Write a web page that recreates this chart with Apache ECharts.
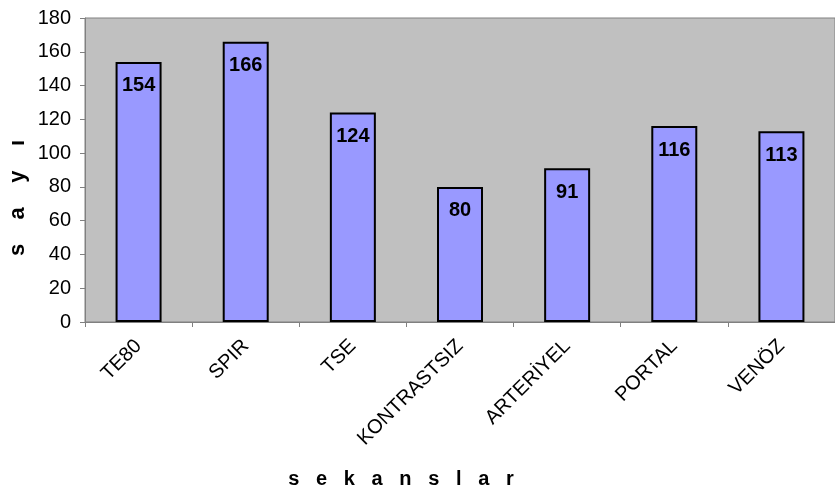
<!DOCTYPE html>
<html>
<head>
<meta charset="utf-8">
<script src="https://cdn.jsdelivr.net/npm/echarts@6/dist/echarts.min.js"></script>
<style>
  html, body { margin: 0; padding: 0; background: #fff; }
  #chart { width: 835px; height: 493px; }
</style>
</head>
<body>
<div id="chart"></div>
<script>
// Sequence counts
const categories = ['TE80', 'SPIR', 'TSE', 'KONTRASTSIZ', 'ARTERİYEL', 'PORTAL', 'VENÖZ'];
const counts = [154, 166, 124, 80, 91, 116, 113];
const yTicks = { min: 0, max: 180, step: 20 };

const FONT = 'Arial, "Liberation Sans", sans-serif';
const spaced = (s, n) => s.split('').join(' '.repeat(n));

const chart = echarts.init(document.getElementById('chart'));

chart.setOption({
  animation: false,
  grid: {
    left: 85, top: 18, right: 0, bottom: 171,
    show: true, backgroundColor: '#C0C0C0', borderColor: '#808080', borderWidth: 1
  },
  xAxis: {
    type: 'category',
    data: categories,
    axisLine: { lineStyle: { color: '#808080', width: 1 } },
    axisTick: { show: true, length: 5, alignWithLabel: false, lineStyle: { color: '#808080' } },
    axisLabel: {
      rotate: 45, interval: 0, margin: 21,
      color: '#000', fontFamily: FONT, fontSize: 20
    }
  },
  yAxis: {
    type: 'value',
    min: yTicks.min, max: yTicks.max, interval: yTicks.step,
    axisLine: { show: true, lineStyle: { color: '#808080', width: 1 } },
    axisTick: { show: true, length: 5, lineStyle: { color: '#808080' } },
    splitLine: { show: false },
    axisLabel: { color: '#000', fontFamily: FONT, fontSize: 20, margin: 14 }
  },
  series: [{
    type: 'bar',
    data: counts,
    barWidth: 46,
    itemStyle: { color: '#9999FF', borderColor: '#000', borderWidth: 2 },
    label: {
      show: true, position: 'insideTop', distance: 14,
      color: '#000', fontFamily: FONT, fontSize: 20, fontWeight: 'bold'
    }
  }],
  graphic: [
    {
      type: 'text', x: 401, y: 479,
      style: {
        text: spaced('sekanslar', 3),
        font: 'bold 20px ' + FONT, fill: '#000',
        textAlign: 'center', textVerticalAlign: 'middle'
      }
    },
    {
      type: 'text', x: 18, y: 198, rotation: Math.PI / 2,
      style: {
        text: spaced('sayı', 4),
        font: 'bold 22px ' + FONT, fill: '#000',
        textAlign: 'center', textVerticalAlign: 'middle'
      }
    }
  ]
});
</script>
</body>
</html>
